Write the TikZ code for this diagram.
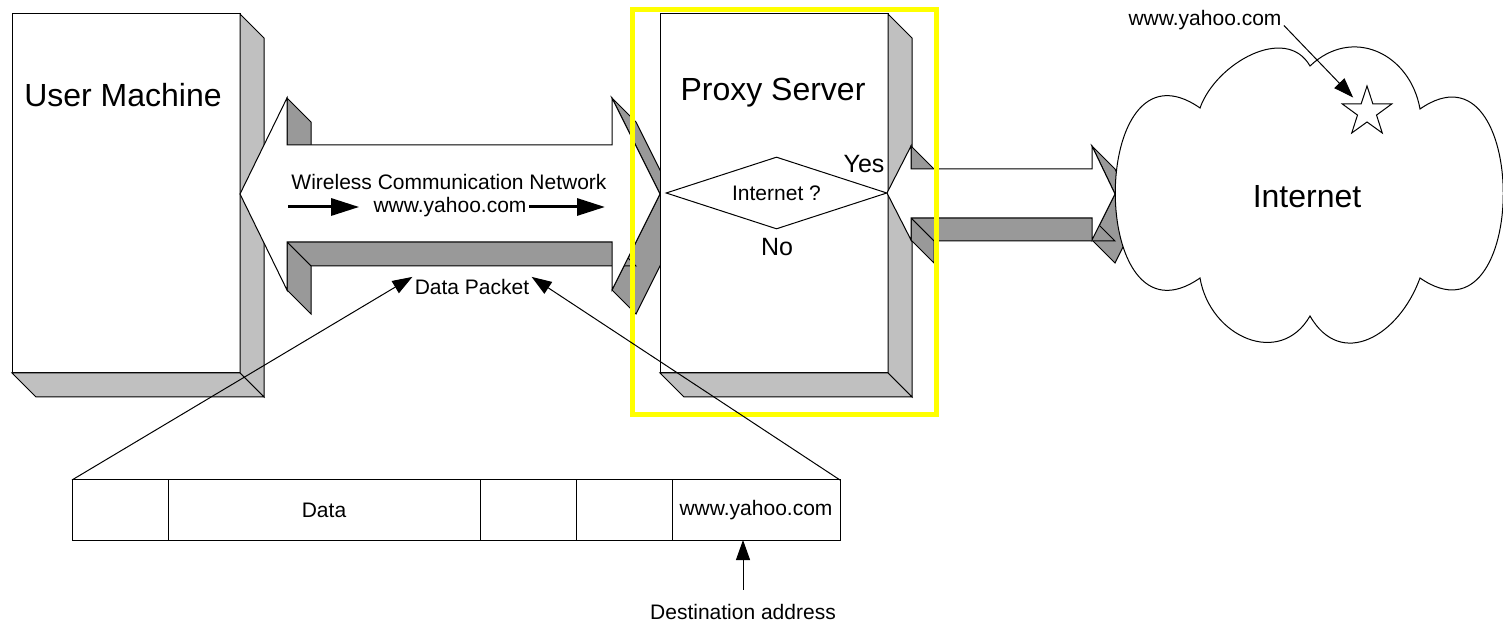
\documentclass[tikz,border=0pt]{standalone}
\usepackage{fontspec}
\setmainfont{Liberation Sans}
\usetikzlibrary{arrows.meta,calc,positioning,shapes.geometric}

\definecolor{sidegray}{HTML}{C0C0C0}
\definecolor{bandgray}{HTML}{999999}
\definecolor{hilite}{HTML}{FFFF00}

\tikzset{
  box/.style={draw, fill=white, line width=0.5pt, minimum width=114pt, minimum height=179.5pt, inner sep=0pt, outer sep=0pt},
  side/.style={draw, fill=sidegray, line width=0.5pt},
  band/.style={draw, fill=bandgray, line width=0.5pt},
  face/.style={draw, fill=white, line width=0.5pt},
  big/.style={font=\fontsize{16}{19}\selectfont, inner sep=1pt},
  mid/.style={font=\fontsize{12.5}{15}\selectfont, inner sep=1pt},
  small/.style={font=\fontsize{10.5}{12.5}\selectfont, inner sep=1pt},
  cell/.style={draw, line width=0.5pt, minimum height=30pt, inner sep=0pt, outer sep=0pt, font=\fontsize{10.5}{12.5}\selectfont},
  ptr/.style={line width=0.5pt, -{Triangle[length=10pt,width=7pt]}},
  flow/.style={line width=1.5pt, -{Triangle[length=14pt,width=8.5pt]}},
}

\begin{document}
\begin{tikzpicture}[x=0.5pt, y=0.5pt]
    \useasboundingbox (0,0) rectangle (1503,621);

    % user machine
    \node[box] (user) at (126,427.5) {};
    \draw[side] (user.north east) -- ++(24,-24) -- ($(user.south east)+(24,-24)$) -- (user.south east) -- cycle;
    \draw[side] (user.south west) -- (user.south east) -- ++(24,-24) -- ($(user.south west)+(24,-24)$) -- cycle;
    \node[big] (usertxt) at (123,526) {User Machine};

    % wireless link
    \draw[band] (287,523) -- (311,499) -- (311,452) -- (287,476) -- cycle;
    \draw[band] (612,523) -- (636,499) -- (684,403) -- (660,427) -- cycle;
    \draw[band] (660,427) -- (684,403) -- (636,307) -- (612,331) -- cycle;
    \draw[band] (287,379) -- (612,379) -- (636,355) -- (311,355) -- cycle;
    \draw[band] (287,379) -- (311,355) -- (311,307) -- (287,331) -- cycle;
    \draw[face] (240,427) -- (287,523) -- (287,476) -- (612,476) -- (612,523) -- (660,427)
        -- (612,331) -- (612,379) -- (287,379) -- (287,331) -- cycle;

    % proxy server
    \node[box] (proxy) at (774,427.5) {};
    \draw[side] (proxy.north east) -- ++(24,-24) -- ($(proxy.south east)+(24,-24)$) -- (proxy.south east) -- cycle;
    \draw[side] (proxy.south west) -- (proxy.south east) -- ++(24,-24) -- ($(proxy.south west)+(24,-24)$) -- cycle;
    \node[big] (proxytxt) at (773,528) {Proxy Server};

    % link to internet
    \draw[band] (911,475) -- (934,452) -- (934,429) -- (911,452) -- cycle;
    \draw[band] (1092,475) -- (1115,452) -- (1138,404) -- (1115,427) -- cycle;
    \draw[band] (1115,427) -- (1138,404) -- (1115,358) -- (1092,381) -- cycle;
    \draw[band] (911,403) -- (1092,403) -- (1115,380) -- (934,380) -- cycle;
    \draw[band] (911,403) -- (934,380) -- (934,358) -- (911,381) -- cycle;
    \draw[face] (887,428) -- (911,475) -- (911,452) -- (1092,452) -- (1092,475) -- (1115,427)
        -- (1092,381) -- (1092,403) -- (911,403) -- (911,381) -- cycle;

    % internet cloud
    \draw[face] (1200,343) .. controls (1087,264) and (1087,592) .. (1200,513)
        .. controls (1216,558) and (1286,597) .. (1310,555)
        .. controls (1352,595) and (1410,568) .. (1420,512)
        .. controls (1531,589) and (1531,266) .. (1420,343)
        .. controls (1399,285) and (1341,251) .. (1310,305)
        .. controls (1280,253) and (1210,284) .. (1200,343) -- cycle;
    \node[big] (internet) at (1307,424) {Internet};
    \coordinate (site) at (1367,509);
    \draw[face] ($(site)+(90:26)$)
        \foreach \k in {0,...,4} { -- ($(site)+(126+72*\k:10)$) -- ($(site)+(162+72*\k:26)$) } -- cycle;

    % highlight
    \draw[hilite, line width=2.5pt] (632.5,206.5) rectangle (936.5,611);

    % decision
    \node[diamond, draw, fill=white, line width=0.5pt, aspect=3, minimum width=110.5pt,
          minimum height=36pt, inner sep=0pt, small] (ask) at (776.5,428) {Internet ?};
    \node[mid] (yes) at (864,457) {Yes};
    \node[mid] (no) at (777,374) {No};

    % labels on the link
    \node[small] (wcn) at (449,439) {Wireless Communication Network};
    \node[small] (urlmid) at (450,414) {www.yahoo.com};
    \coordinate (fa) at (288,414);
    \coordinate (fb) at (605,414);
    \draw[flow, shorten >=6pt] (fa) -- (urlmid.west);
    \draw[flow] (urlmid.east) -- (fb);
    \node[small] (pkt) at (472,334) {Data Packet};

    % packet layout
    \node[cell, minimum width=48pt] (c1) at (120,111) {};
    \node[cell, minimum width=156pt, right=0pt of c1] (c2) {Data};
    \node[cell, minimum width=48pt, right=0pt of c2] (c3) {};
    \node[cell, minimum width=48pt, right=0pt of c3] (c4) {};
    \node[cell, minimum width=84pt, right=0pt of c4] (c5) {www.yahoo.com};
    \draw[ptr] (c1.north west) -- (pkt.north west);
    \draw[ptr] (c5.north east) -- (pkt.north east);
    \node[small] (dest) at (743,9) {Destination address};
    \draw[ptr, shorten <=6pt] (dest.north) -- (dest.north |- c5.south);

    % site pointer
    \node[small] (urltop) at (1205,601) {www.yahoo.com};
    \draw[ptr, shorten >=10pt] (urltop.base east) -- (site);
\end{tikzpicture}
\end{document}
